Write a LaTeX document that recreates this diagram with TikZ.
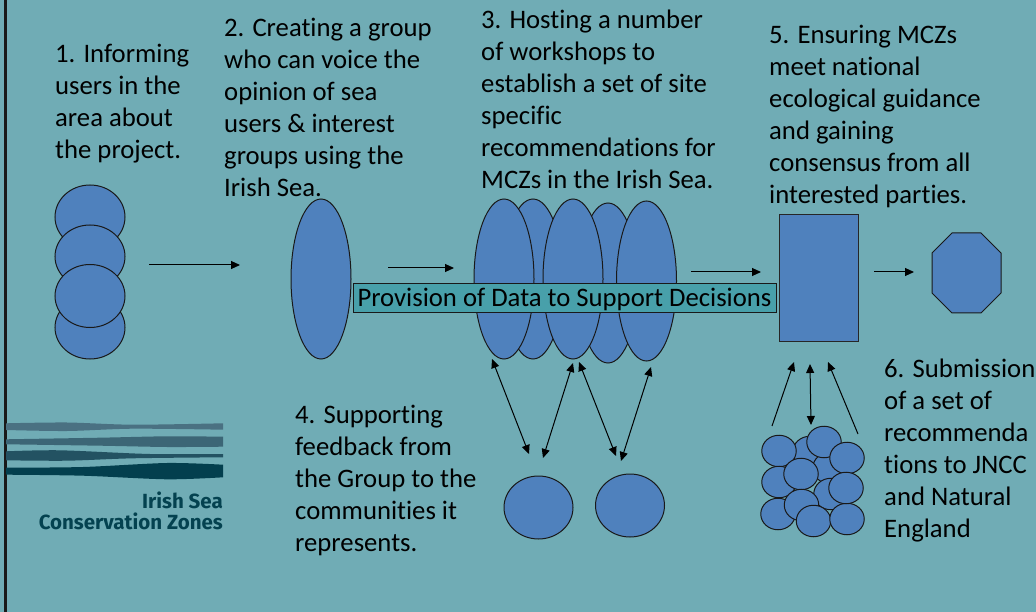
\documentclass[tikz,border=0pt]{standalone}
\usepackage{fontspec}
\setmainfont[Ligatures=NoCommon]{Carlito}
\newfontfamily\logofont{Fira Sans}
\usetikzlibrary{arrows.meta, shapes.geometric}
\definecolor{seabg}{RGB}{112,172,181}
\definecolor{shapeblue}{RGB}{79,129,189}
\definecolor{bannerfill}{RGB}{72,160,170}
\definecolor{logoink}{RGB}{4,66,80}
\definecolor{waveone}{RGB}{74,113,130}
\definecolor{wavetwo}{RGB}{60,102,118}
\definecolor{wavethree}{RGB}{35,82,98}
\definecolor{wavefour}{RGB}{3,63,78}
\tikzstyle{blob}=[ellipse, draw=black!90, fill=shapeblue, line width=1pt, inner sep=0pt]
\tikzstyle{stepnote}=[anchor=north west, align=left, inner sep=0pt, font=\fontsize{26.7}{32}\selectfont]
\tikzstyle{oneway}=[-{Triangle[length=9pt,width=8pt]}, line width=1pt]
\tikzstyle{twoway}=[{Triangle[length=9pt,width=8pt]}-{Triangle[length=9pt,width=8pt]}, line width=1pt]
\tikzstyle{logotext}=[anchor=base east, inner sep=0pt, text=logoink, font=\logofont\bfseries\fontsize{20.5}{24}\selectfont]

\begin{document}
\begin{tikzpicture}[x=1pt, y=-1pt]
\useasboundingbox (0,0) rectangle (1036,612);
\fill[seabg] (0,0) rectangle (1036,612);
\fill[black!90] (3.5,0) rectangle (6.5,612);
% Step one circles
    \node[blob, minimum width=70, minimum height=64] (one_a) at (90,217) {};
    \node[blob, minimum width=70, minimum height=63] (one_d) at (90,327.5) {};
    \node[blob, minimum width=70, minimum height=63] (one_b) at (90,256.5) {};
    \node[blob, minimum width=70, minimum height=63] (one_c) at (90,296) {};
% Group
    \node[blob, minimum width=60, minimum height=160] (group) at (321,279) {};
% Workshops
    \node[blob, minimum width=60, minimum height=160] (shop_b) at (533,279) {};
    \node[blob, minimum width=60, minimum height=160] (shop_d) at (608,283) {};
    \node[blob, minimum width=60, minimum height=160] (shop_a) at (504,279) {};
    \node[blob, minimum width=60, minimum height=160] (shop_c) at (573,279) {};
    \node[blob, minimum width=60, minimum height=160] (shop_e) at (646.5,281) {};
% Banner
    \node[draw=black!90, fill=bannerfill, line width=1pt, inner sep=0pt, minimum width=423, minimum height=29,
        text height=20pt, text depth=3.6pt, font=\fontsize{26.7}{29}\selectfont] (banner) at (564.5,298.5) {Provision of Data to Support Decisions};
% Consensus box and end shape
    \node[draw=black!85, fill=shapeblue, line width=1pt, inner sep=0pt, minimum width=79, minimum height=126] (consensus) at (818.5,278) {};
    \draw[fill=shapeblue, draw=black!90, line width=1pt] (952,233) -- (981,233) -- (1001,253) -- (1001,293)
        -- (981,313) -- (952,313) -- (932,293) -- (932,253) -- cycle;
% Communities
    \node[blob, minimum width=69, minimum height=63] (comm_a) at (538.5,507.5) {};
    \node[blob, minimum width=69, minimum height=63] (comm_b) at (630,505.5) {};
% Small cluster
    \foreach \n/\x/\y in {back_a/810/452, back_b/830/468, back_c/831/494, s_a/779/451, s_b/824/442, s_c/847/458,
        s_d/779/482, s_e/801/474, s_f/778/514, s_g/801.5/505, s_h/813.5/521, s_i/847/519, s_j/846/488}
        \node[blob, minimum width=34.5, minimum height=31.5] (\n) at (\x,\y) {};
% Arrow ends
    \coordinate (p_a) at (149,265);
    \coordinate (p_b) at (240,265);
    \coordinate (p_c) at (388,268);
    \coordinate (p_d) at (454,268);
    \coordinate (p_e) at (691,272);
    \coordinate (p_f) at (761,272);
    \coordinate (p_g) at (874,272);
    \coordinate (p_h) at (914,272);
    \coordinate (q_a) at (492,359);
    \coordinate (q_b) at (529,454);
    \coordinate (q_c) at (573,363);
    \coordinate (q_d) at (543,458);
    \coordinate (q_e) at (579,362);
    \coordinate (q_f) at (616,456);
    \coordinate (q_g) at (651,367);
    \coordinate (q_h) at (621,461);
    \coordinate (r_a) at (772,426);
    \coordinate (r_b) at (794,362);
    \coordinate (r_c) at (810,364);
    \coordinate (r_d) at (811,425);
    \coordinate (r_e) at (858,434);
    \coordinate (r_f) at (828,362);
% Arrows
    \draw[oneway] (p_a) -- (p_b);
    \draw[oneway] (p_c) -- (p_d);
    \draw[oneway] (p_e) -- (p_f);
    \draw[oneway] (p_g) -- (p_h);
    \draw[twoway] (q_a) -- (q_b);
    \draw[twoway] (q_c) -- (q_d);
    \draw[twoway] (q_e) -- (q_f);
    \draw[twoway] (q_g) -- (q_h);
    \draw[oneway] (r_a) -- (r_b);
    \draw[twoway] (r_c) -- (r_d);
    \draw[oneway] (r_e) -- (r_f);
% Step texts
    \node[stepnote] (note_one) at (55,44) {1. Informing\\users in the\\area about\\the project.};
    \node[stepnote] (note_two) at (224,18) {2. Creating a group\\who can voice the\\opinion of sea\\users \& interest\\groups using the\\Irish Sea.};
    \node[stepnote] (note_three) at (481,10) {3. Hosting a number\\of workshops to\\establish a set of site\\specific\\recommendations for\\MCZs in the Irish Sea.};
    \node[stepnote] (note_four) at (295,405) {4. Supporting\\feedback from\\the Group to the\\communities it\\represents.};
    \node[stepnote] (note_five) at (769,25) {5. Ensuring MCZs\\meet national\\ecological guidance\\and gaining\\consensus from all\\interested parties.};
    \node[stepnote] (note_six) at (884,359) {6. Submission\\of a set of\\recommenda\\tions to JNCC\\and Natural\\England};
% Logo
    \fill[waveone] plot[smooth] coordinates {(6,423.3) (67,422.5) (133,424.7) (223,423.3)}
        -- plot[smooth] coordinates {(223,429.7) (133,428.7) (67,431) (6,430)} -- cycle;
    \fill[wavetwo] plot[smooth] coordinates {(6,439.3) (100,437.7) (167,436.3) (223,436.7)}
        -- plot[smooth] coordinates {(223,446.7) (167,447) (100,445.7) (6,444.3)} -- cycle;
    \fill[wavethree] plot[smooth] coordinates {(6,451.3) (60,450.3) (150,454) (223,454)}
        -- plot[smooth] coordinates {(223,457.3) (133,458.3) (67,460.7) (6,460.3)} -- cycle;
    \fill[wavefour] plot[smooth] coordinates {(6,467.7) (83,467) (167,463) (223,464.7)}
        -- plot[smooth] coordinates {(223,477.3) (167,479.3) (83,475.7) (6,474.7)} -- cycle;
    \node[logotext] (logo_a) at (223,508) {Irish Sea};
    \node[logotext] (logo_b) at (223,529) {Conservation Zones};
\end{tikzpicture}
\end{document}
